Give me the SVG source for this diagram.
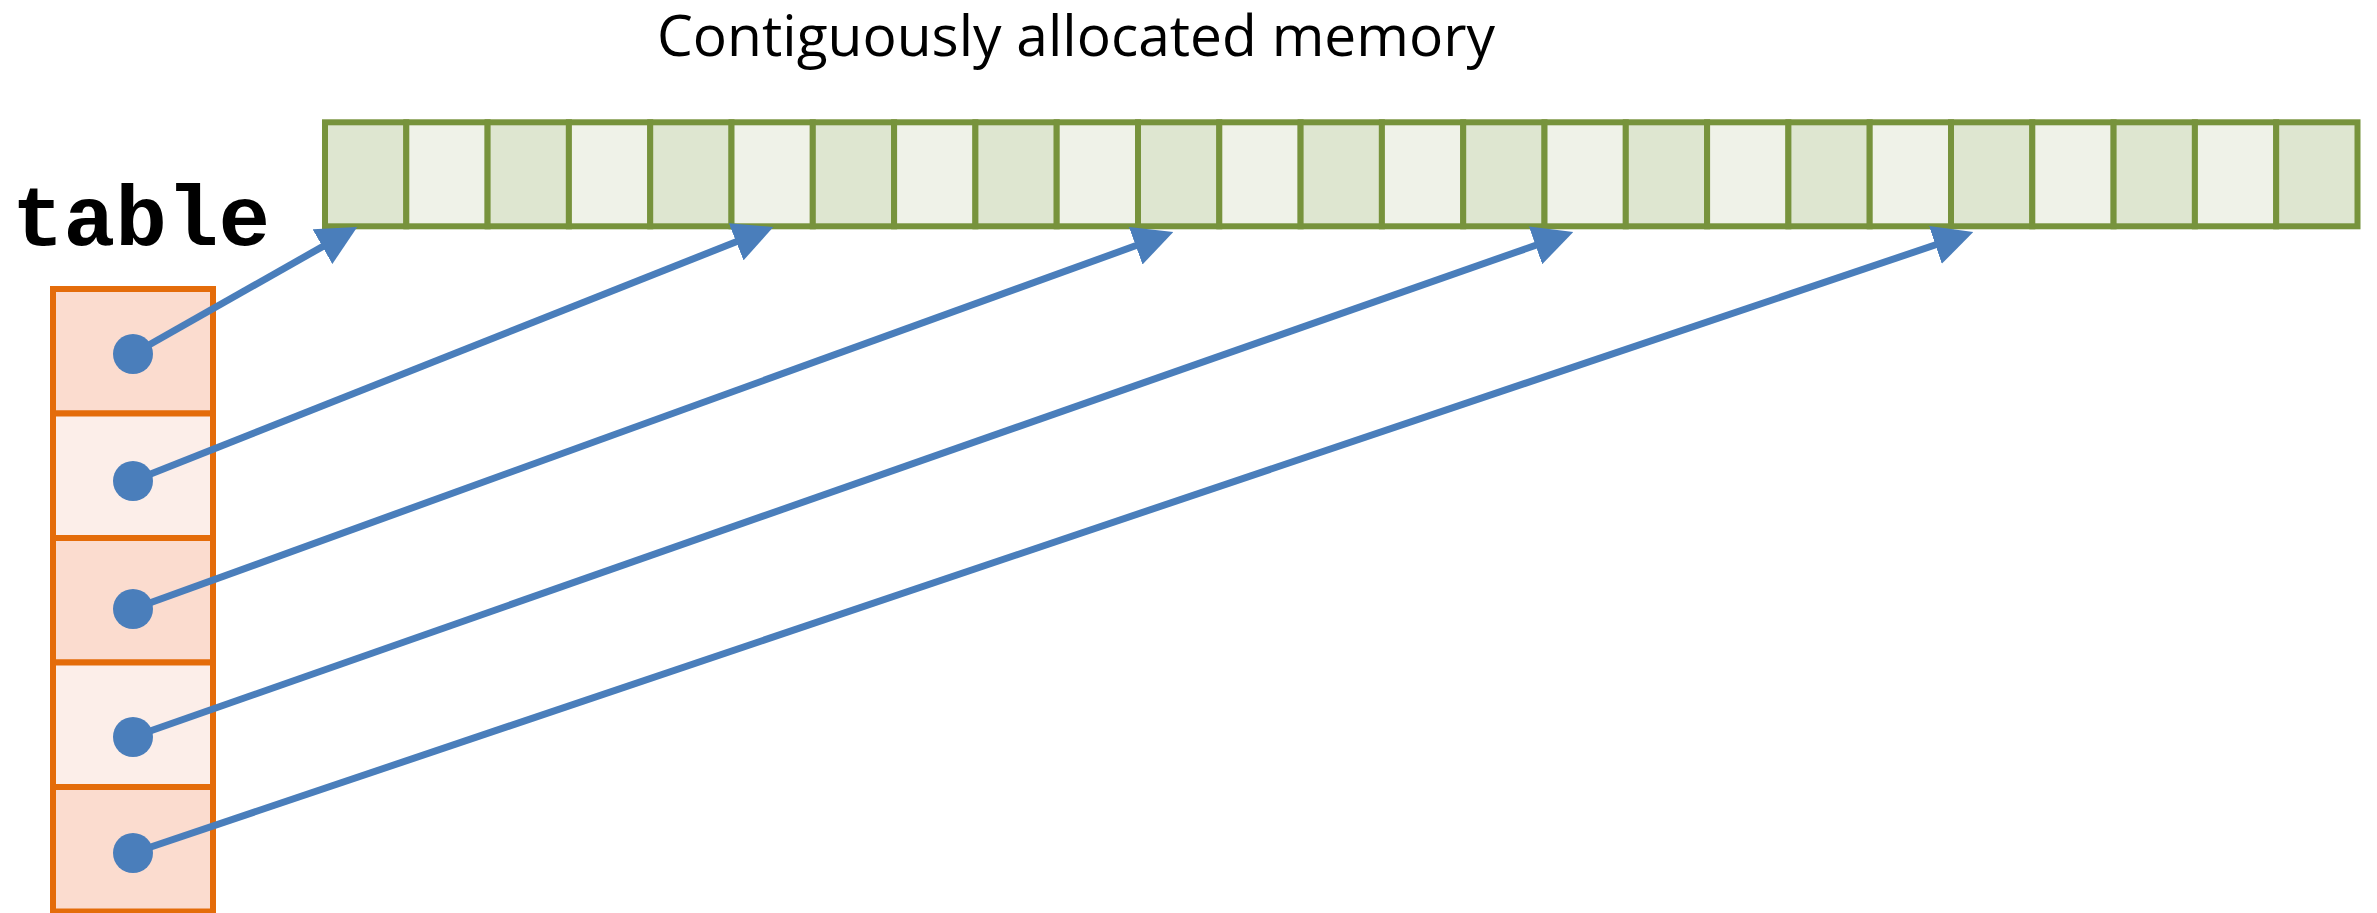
<svg xmlns="http://www.w3.org/2000/svg" width="2377" height="913" viewBox="0 0 2377 913">
  <style>
    .mem { stroke: #77933C; stroke-width: 6; }
    .mem-d { fill: #DEE6D0; }
    .mem-l { fill: #EFF2E8; }
    .tab { stroke: #E46C0A; stroke-width: 6; }
    .tab-d { fill: #FBDCCF; }
    .tab-l { fill: #FCEEE9; }
    .ptr { stroke: #4A7EBB; stroke-width: 7; fill: none; marker-end: url(#arrow); }
    .dot { fill: #4A7EBB; }
    .title { font-family: "Open Sans", "Liberation Sans", sans-serif; font-size: 57px; fill: #000; }
    .code { font-family: "Liberation Mono", "Courier New", monospace; font-weight: bold; font-size: 86px; fill: #000; }
  </style>
  <defs>
    <marker id="arrow" markerUnits="userSpaceOnUse" markerWidth="40" markerHeight="40" viewBox="0 0 39 39" refX="14" refY="19.5" orient="auto">
      <path d="M0,0 L39,19.5 L0,39 Z" fill="#4A7EBB"/>
    </marker>
  </defs>
  <rect width="2377" height="913" fill="#FFFFFF"/>

  <g id="title">
    <text class="title" x="657" y="56" textLength="838" lengthAdjust="spacingAndGlyphs">Contiguously allocated memory</text>
  </g>

  <g id="table-label">
    <text class="code" x="12" y="245">table</text>
  </g>

  <g id="memory">
    <rect class="mem mem-d" x="325" y="122.3" width="81.3" height="104"/>
    <rect class="mem mem-l" x="406.3" y="122.3" width="81.3" height="104"/>
    <rect class="mem mem-d" x="487.6" y="122.3" width="81.3" height="104"/>
    <rect class="mem mem-l" x="568.9" y="122.3" width="81.3" height="104"/>
    <rect class="mem mem-d" x="650.2" y="122.3" width="81.3" height="104"/>
    <rect class="mem mem-l" x="731.5" y="122.3" width="81.3" height="104"/>
    <rect class="mem mem-d" x="812.8" y="122.3" width="81.3" height="104"/>
    <rect class="mem mem-l" x="894.1" y="122.3" width="81.3" height="104"/>
    <rect class="mem mem-d" x="975.4" y="122.3" width="81.3" height="104"/>
    <rect class="mem mem-l" x="1056.7" y="122.3" width="81.3" height="104"/>
    <rect class="mem mem-d" x="1138" y="122.3" width="81.3" height="104"/>
    <rect class="mem mem-l" x="1219.3" y="122.3" width="81.3" height="104"/>
    <rect class="mem mem-d" x="1300.6" y="122.3" width="81.3" height="104"/>
    <rect class="mem mem-l" x="1381.9" y="122.3" width="81.3" height="104"/>
    <rect class="mem mem-d" x="1463.2" y="122.3" width="81.3" height="104"/>
    <rect class="mem mem-l" x="1544.5" y="122.3" width="81.3" height="104"/>
    <rect class="mem mem-d" x="1625.8" y="122.3" width="81.3" height="104"/>
    <rect class="mem mem-l" x="1707.1" y="122.3" width="81.3" height="104"/>
    <rect class="mem mem-d" x="1788.4" y="122.3" width="81.3" height="104"/>
    <rect class="mem mem-l" x="1869.7" y="122.3" width="81.3" height="104"/>
    <rect class="mem mem-d" x="1951" y="122.3" width="81.3" height="104"/>
    <rect class="mem mem-l" x="2032.3" y="122.3" width="81.3" height="104"/>
    <rect class="mem mem-d" x="2113.6" y="122.3" width="81.3" height="104"/>
    <rect class="mem mem-l" x="2194.9" y="122.3" width="81.3" height="104"/>
    <rect class="mem mem-d" x="2276.2" y="122.3" width="81.3" height="104"/>
  </g>

  <g id="table">
    <rect class="tab tab-d" x="53" y="289" width="160" height="124.5"/>
    <rect class="tab tab-l" x="53" y="413.5" width="160" height="124.5"/>
    <rect class="tab tab-d" x="53" y="538" width="160" height="124.5"/>
    <rect class="tab tab-l" x="53" y="662.5" width="160" height="124.5"/>
    <rect class="tab tab-d" x="53" y="787" width="160" height="124.5"/>
  </g>

  <g id="connectors">
    <line class="ptr" x1="133" y1="354" x2="334.95" y2="239.6"/>
    <line class="ptr" x1="133" y1="481" x2="749.5" y2="236.5"/>
    <line class="ptr" x1="133" y1="609" x2="1149.2" y2="240.8"/>
    <line class="ptr" x1="133" y1="737" x2="1549.1" y2="240.6"/>
    <line class="ptr" x1="133" y1="853" x2="1949.0" y2="240.3"/>
    <circle class="dot" cx="133" cy="354" r="20"/>
    <circle class="dot" cx="133" cy="481" r="20"/>
    <circle class="dot" cx="133" cy="609" r="20"/>
    <circle class="dot" cx="133" cy="737" r="20"/>
    <circle class="dot" cx="133" cy="853" r="20"/>
  </g>
</svg>
